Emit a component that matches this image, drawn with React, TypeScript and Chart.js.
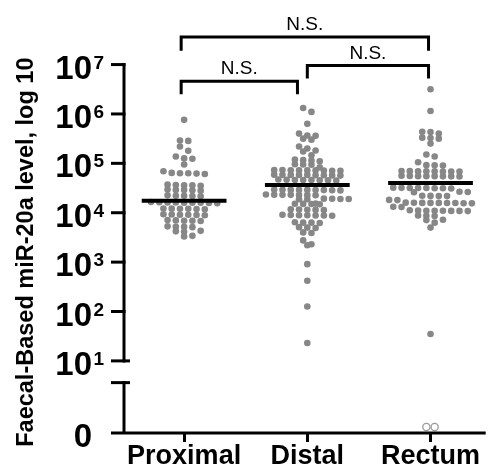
import React, { useEffect, useRef } from 'react';
import { Chart, registerables } from 'chart.js';

Chart.register(...registerables);

// ---------- data ----------
const CATEGORIES = ['Proximal', 'Distal', 'Rectum'];

const PROXIMAL = [
  760000,
  290000, 285000,
  220000,
  180000,
  138000,
  126000, 124000,
  95000,
  69000, 64000, 63000, 63000, 62000, 61000,
  37000, 36000, 36000, 35000, 36500,
  29500, 29000, 28500, 29000, 28000,
  22500, 22000, 21500, 22000, 21800,
  16500, 16000, 16200, 15800, 16000, 15600, 16100, 15900, 16300,
  12200, 12000, 11800, 12000, 12100, 11900,
  9300, 9100, 9000, 9200, 8900, 9100,
  7000, 6900, 6800, 6900, 7100,
  5300, 5200, 5100, 5200,
  4200, 4300, 4100,
  3400, 3300,
];

const DISTAL = [
  1320000, 1100000, 630000, 400000, 365000, 360000, 316000, 302000, 219000, 200000,
  182000, 174000, 145000, 120000, 116000, 114000, 110000, 96000, 95000, 94000, 83000,
  73000, 72000, 72500, 71000, 72000, 73500, 71500, 72000, 70500,
  58000, 57500, 58500, 57000, 58000, 59000, 57500, 58000, 56500,
  46000, 45500, 46500, 45000, 46000, 47000, 45500, 46000,
  29000, 28800, 29200, 28500, 29000, 29500, 28700, 29000, 28300,
  23000, 22800, 23200, 22600, 23000, 23400, 22700,
  19000, 18800, 19200, 18700, 19000, 19300,
  15100, 15000, 15300, 14900, 15200,
  11500, 11400, 11600, 11300, 11700,
  8900, 8800, 9000, 8700, 8900, 9100, 8800,
  6300, 6200, 6400, 6300,
  5000, 5100, 4900,
  4000, 3900,
  2750, 2300, 2200, 910, 420, 126, 23,
];

const RECTUM = [
  3160000, 1150000, 437000, 430000, 400000, 331000, 325000, 316000, 251000, 151000, 138000, 105000,
  91000, 90000, 92000,
  69000, 68500, 69500, 68000, 69000, 70000, 68500, 69000,
  55000, 54500, 55500, 54000, 55000, 56000, 54500, 55000,
  31600, 31300, 31900, 31000, 31600, 32200, 31200, 31600,
  26300, 26000, 26600,
  21900, 21700, 22100, 21800,
  18200, 18000,
  15800, 15700, 15900, 15600, 15800, 16000, 15700, 15800, 15500,
  13200, 13000,
  11000, 10900, 11100, 10800, 11000, 11200, 10900, 11000,
  8700, 8600, 8800,
  7200, 7100,
  6300, 5000, 35, 0, 0,
];

const MEDIANS = [17400, 36300, 39800];
const Y_EXPONENTS = [1, 2, 3, 4, 5, 6, 7];
const ZERO_LABEL = '0';
const Y_TITLE = 'Faecal-Based miR-20a level, log 10';
const COMPARISONS = [
  { from: 1, to: 3, label: 'N.S.' },
  { from: 1, to: 2, label: 'N.S.' },
  { from: 2, to: 3, label: 'N.S.' },
];

// ---------- layout / style ----------
const W = 491;
const H = 474;
const AXIS_LEFT = 124;
const AXIS_BOTTOM_H = 41;
const Y_MIN = -0.46; // where the "0" sits (axis line), in log10 units
const Y_MAX = 8.2;
const ZERO_PLOT = -0.34; // plotted position of zero values
const BREAK_LOW = 0.56; // start of the lower axis segment
const X_MIN = 0.512;
const X_MAX = 3.448;
const MEDIAN_HALF = 0.344;
const DOT = '#878787';
const FONT = '"Liberation Sans", Arial, Helvetica, sans-serif';
const ROW_SPACING = 8.4; // px between dots in a row
const ROW_BIN = 4.6; // px height of a row bin
const BRACKET_GEOM = [
  { dx1: -0.024, dx2: -0.016, level: 7.56, drop: 0.28 },
  { dx1: -0.024, dx2: -0.08, level: 6.66, drop: 0.26 },
  { dx1: 0, dx2: -0.016, level: 6.98, drop: 0.26 },
];

const toY = (v: number) => (v > 0 ? Math.log10(v) : ZERO_PLOT);

// Prism-like column scatter: points falling in the same row bin are spread side by side
function columnScatter(vals: number[], center: number, pxX: number, pxY: number) {
  const pts = vals.map((v) => ({ v, y: toY(v) })).sort((a, b) => b.y - a.y);
  const rows: { v: number; y: number }[][] = [];
  let cur: { v: number; y: number }[] = [];
  let start = Infinity;
  for (const p of pts) {
    if (cur.length === 0 || (start - p.y) * pxY > ROW_BIN) {
      if (cur.length) rows.push(cur);
      cur = [p];
      start = p.y;
    } else {
      cur.push(p);
    }
  }
  if (cur.length) rows.push(cur);
  const out: { x: number; y: number; v: number }[] = [];
  for (const row of rows) {
    const n = row.length;
    // order points so the middle of the row gets the middle values
    row.forEach((p, k) => {
      const off = (k - (n - 1) / 2) * ROW_SPACING;
      out.push({ x: center + off / pxX, y: p.y, v: p.v });
    });
  }
  return out;
}

const decorPlugin = {
  id: 'decor',
  afterDraw(chart: any) {
    const { ctx, chartArea, scales } = chart;
    const xs = scales.x;
    const ys = scales.y;
    const ax = chartArea.left;
    const py = (v: number) => ys.getPixelForValue(v);
    const px = (v: number) => xs.getPixelForValue(v);
    ctx.save();
    ctx.strokeStyle = '#000';
    ctx.fillStyle = '#000';
    ctx.lineWidth = 3;
    ctx.lineCap = 'butt';
    const seg = (x1: number, y1: number, x2: number, y2: number) => {
      ctx.beginPath();
      ctx.moveTo(x1, y1);
      ctx.lineTo(x2, y2);
      ctx.stroke();
    };
    const topE = Y_EXPONENTS[Y_EXPONENTS.length - 1];
    const lowE = Y_EXPONENTS[0];
    const yTop = py(topE);
    const yLow = py(lowE);
    const yBrk = py(BREAK_LOW);
    const yBase = py(Y_MIN);
    seg(ax, yTop - 1.5, ax, yLow + 1.5);
    seg(ax, yBrk - 1.5, ax, yBase);
    seg(ax - 13, yBase, chartArea.right, yBase);
    Y_EXPONENTS.forEach((e) => {
      const y = py(e);
      seg(ax - 13, y, e === lowE ? ax + 6 : ax + 1.5, y);
    });
    seg(ax - 13, yBrk, ax + 6, yBrk);

    // tick labels
    const labelRight = ax - 32;
    ys.ticks.forEach((t: any) => {
      const y = py(t.value);
      ctx.textAlign = 'right';
      ctx.textBaseline = 'alphabetic';
      ctx.font = `bold 33px ${FONT}`;
      if (Math.abs(t.value - Y_MIN) < 1e-9) {
        ctx.fillText(ZERO_LABEL, labelRight, y + 14);
      } else {
        ctx.fillText('10', labelRight, y + 14);
        ctx.textAlign = 'left';
        ctx.font = `bold 19px ${FONT}`;
        ctx.fillText(String(t.value), labelRight + 1.5, y + 4);
      }
    });

    // y title
    ctx.save();
    ctx.translate(33, (chartArea.top + yBase) / 2 + 33);
    ctx.rotate(-Math.PI / 2);
    ctx.textAlign = 'center';
    ctx.textBaseline = 'alphabetic';
    ctx.font = `bold 23.5px ${FONT}`;
    ctx.fillText(Y_TITLE, 0, 0);
    ctx.restore();

    // comparison brackets
    COMPARISONS.forEach((c, i) => {
      const g = BRACKET_GEOM[i];
      const x1 = px(c.from + g.dx1);
      const x2 = px(c.to + g.dx2);
      const yl = py(g.level);
      const yb = py(g.level - g.drop);
      ctx.lineJoin = 'miter';
      ctx.beginPath();
      ctx.moveTo(x1, yb);
      ctx.lineTo(x1, yl);
      ctx.lineTo(x2, yl);
      ctx.lineTo(x2, yb);
      ctx.stroke();
      ctx.font = `19px ${FONT}`;
      ctx.textAlign = 'center';
      ctx.textBaseline = 'alphabetic';
      ctx.fillText(c.label, (x1 + x2) / 2, yl - 7);
    });
    ctx.restore();
  },
};

export default function App() {
  const ref = useRef<HTMLCanvasElement>(null);
  useEffect(() => {
    const canvas = ref.current;
    if (!canvas) return;
    const pxX = (W - AXIS_LEFT) / (X_MAX - X_MIN);
    const pxY = (H - AXIS_BOTTOM_H) / (Y_MAX - Y_MIN);
    const groups = [PROXIMAL, DISTAL, RECTUM];

    const medianSets = MEDIANS.map((m, i) => ({
      label: `median ${CATEGORIES[i]}`,
      data: [
        { x: i + 1 - MEDIAN_HALF, y: Math.log10(m) },
        { x: i + 1 + MEDIAN_HALF, y: Math.log10(m) },
      ],
      showLine: true,
      borderColor: '#000',
      borderWidth: 4,
      pointRadius: 0,
      order: 0,
    }));

    const dotSets = groups.map((vals, i) => ({
      label: CATEGORIES[i],
      data: columnScatter(vals, i + 1, pxX, pxY),
      showLine: false,
      order: 1,
      pointRadius: (c: any) => (c.raw && c.raw.v === 0 ? 3.6 : 3.3),
      pointBackgroundColor: (c: any) => (c.raw && c.raw.v === 0 ? 'rgba(255,255,255,0)' : DOT),
      pointBorderColor: (c: any) => (c.raw && c.raw.v === 0 ? '#9a9a9a' : DOT),
      pointBorderWidth: (c: any) => (c.raw && c.raw.v === 0 ? 1.3 : 0),
    }));

    const chart = new Chart(canvas, {
      type: 'scatter',
      data: { datasets: [...medianSets, ...dotSets] as any },
      options: {
        responsive: false,
        animation: false,
        events: [],
        layout: { padding: 0 },
        plugins: { legend: { display: false }, tooltip: { enabled: false } },
        scales: {
          x: {
            type: 'linear',
            min: X_MIN,
            max: X_MAX,
            afterBuildTicks: (s: any) => {
              s.ticks = CATEGORIES.map((_, i) => ({ value: i + 1 }));
            },
            afterFit: (s: any) => {
              s.height = AXIS_BOTTOM_H;
            },
            grid: {
              display: true,
              drawOnChartArea: false,
              drawTicks: true,
              tickLength: 9,
              lineWidth: 3,
              color: '#000',
            },
            border: { display: false },
            ticks: {
              autoSkip: false,
              maxRotation: 0,
              minRotation: 0,
              padding: -2,
              color: '#000',
              font: { family: FONT, size: 27, weight: 'bold' },
              callback: (v: any) => CATEGORIES[Math.round(Number(v)) - 1] ?? '',
            },
          },
          y: {
            type: 'linear',
            min: Y_MIN,
            max: Y_MAX,
            afterBuildTicks: (s: any) => {
              s.ticks = [Y_MIN, ...Y_EXPONENTS].map((v) => ({ value: v }));
            },
            afterFit: (s: any) => {
              s.width = AXIS_LEFT;
            },
            grid: { display: false },
            border: { display: false },
            ticks: { display: false },
          },
        },
      } as any,
      plugins: [decorPlugin],
    });
    return () => chart.destroy();
  }, []);

  return (
    <div style={{ position: 'absolute', left: 0, top: 0, width: W, height: H, background: '#fff' }}>
      <canvas ref={ref} width={W} height={H} style={{ width: W, height: H, display: 'block' }} />
    </div>
  );
}
